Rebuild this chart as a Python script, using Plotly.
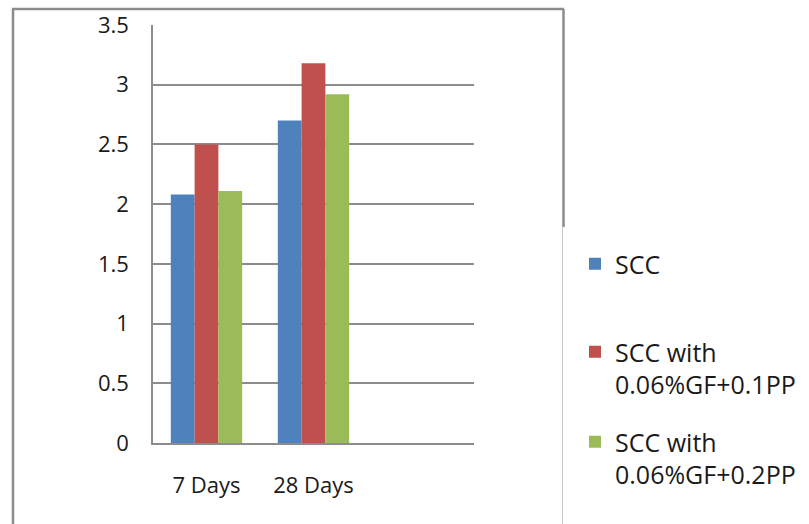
import plotly.graph_objects as go

categories = ["7 Days", "28 Days"]
series_names = ["SCC", "SCC with<br>0.06%GF+0.1PP", "SCC with<br>0.06%GF+0.2PP"]
scc = [2.08, 2.70]
scc_pp01 = [2.50, 3.18]
scc_pp02 = [2.11, 2.92]
colors = ["#4F81BD", "#C0504D", "#9BBB59"]
y_ticks = [0, 0.5, 1, 1.5, 2, 2.5, 3, 3.5]
y_ticktext = ["0", "0.5", "1", "1.5", "2", "2.5", "3", "3.5"]

W, H = 809, 524
L, R, T, B = 153, 474, 25, 443  # plot area in pixels


def px(x):
    return (x - L) / (R - L)


def py(y):
    return (B - y) / (B - T)


fig = go.Figure()
legends = ["legend", "legend2", "legend3"]
for name, vals, col, lg in zip(series_names, [scc, scc_pp01, scc_pp02], colors, legends):
    fig.add_trace(go.Bar(x=categories, y=vals, name=name, marker=dict(color=col, line=dict(width=0)),
                         legend=lg))

font_family = "Open Sans"
leg_common = dict(font=dict(family=font_family, size=25, color="#1a1a1a"), bgcolor="rgba(0,0,0,0)",
                  xanchor="left", yanchor="top", valign="top", borderwidth=0, itemwidth=30)

fig.update_layout(
    width=W, height=H,
    margin=dict(l=L, r=W - R, t=T, b=H - B, pad=0, autoexpand=False),
    paper_bgcolor="white", plot_bgcolor="white",
    barmode="group", bargap=0.333, bargroupgap=0,
    xaxis=dict(type="category", range=[-0.5, 2.5], showgrid=False, showline=True,
               linecolor="#8c8c8c", linewidth=1.5, ticks="", ticklabelstandoff=22,
               tickfont=dict(family=font_family, size=22, color="#1a1a1a"), fixedrange=True),
    yaxis=dict(range=[0, 3.5], tickvals=y_ticks, ticktext=y_ticktext, showgrid=True,
               gridcolor="#8c8c8c", gridwidth=1.5, showline=True, linecolor="#8c8c8c", linewidth=1.5,
               zeroline=False, ticks="", ticklabelstandoff=18,
               tickfont=dict(family=font_family, size=22, color="#1a1a1a")),
    legend=dict(x=px(575), y=py(241), **leg_common),
    legend2=dict(x=px(575), y=py(329), **leg_common),
    legend3=dict(x=px(575), y=py(419), **leg_common),
    showlegend=True,
)

frame_col = "#8c8c8c"
shapes = [
    dict(type="line", xref="paper", yref="paper", x0=px(13), x1=px(13), y0=py(9), y1=py(530),
         line=dict(color=frame_col, width=2.5)),
    dict(type="line", xref="paper", yref="paper", x0=px(12), x1=px(564), y0=py(9), y1=py(9),
         line=dict(color=frame_col, width=2.5)),
    dict(type="line", xref="paper", yref="paper", x0=px(563.5), x1=px(563.5), y0=py(9), y1=py(227),
         line=dict(color=frame_col, width=2.5)),
    dict(type="line", xref="paper", yref="paper", x0=px(562.5), x1=px(562.5), y0=py(227), y1=py(530),
         line=dict(color="#c8c8c8", width=1)),
]
fig.update_layout(shapes=shapes)

fig.write_html("out.html", config={"displayModeBar": False},
               post_script="document.body.style.margin='0px';document.body.style.overflow='hidden';")
